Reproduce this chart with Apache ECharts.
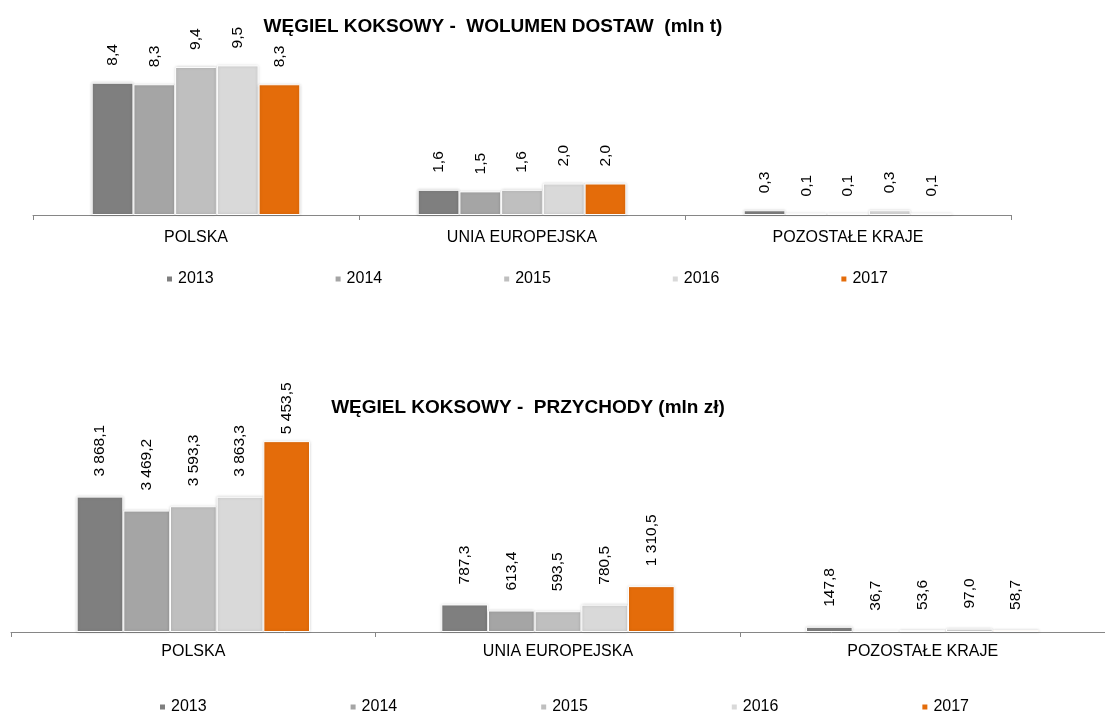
<!DOCTYPE html>
<html>
<head>
<meta charset="utf-8">
<title>Węgiel koksowy</title>
<script src="https://cdn.jsdelivr.net/npm/echarts@6/dist/echarts.min.js"></script>
<style>
  html, body { margin: 0; padding: 0; background: #fff; }
  #main { width: 1105px; height: 713px; }
</style>
</head>
<body>
<div id="main"></div>
<script>
var categories = ['POLSKA', 'UNIA EUROPEJSKA', 'POZOSTAŁE KRAJE'];
var years = ['2013', '2014', '2015', '2016', '2017'];
var colors = ['#7f7f7f', '#a5a5a5', '#bfbfbf', '#d9d9d9', '#e46c0a'];

// wolumen dostaw (mln t), per year: POLSKA, UE, pozostałe
var vol2013 = [8.4, 1.6, 0.3];
var vol2014 = [8.3, 1.5, 0.1];
var vol2015 = [9.4, 1.6, 0.1];
var vol2016 = [9.5, 2.0, 0.3];
var vol2017 = [8.3, 2.0, 0.1];

// przychody (mln zł)
var rev2013 = [3868.1, 787.3, 147.8];
var rev2014 = [3469.2, 613.4, 36.7];
var rev2015 = [3593.3, 593.5, 53.6];
var rev2016 = [3863.3, 780.5, 97.0];
var rev2017 = [5453.5, 1310.5, 58.7];

var volData = [vol2013, vol2014, vol2015, vol2016, vol2017];
var revData = [rev2013, rev2014, rev2015, rev2016, rev2017];

var FONT = '"Liberation Sans", Arial, sans-serif';

function plFmt(v) {
  var s = v.toFixed(1).split('.');
  var int = s[0].replace(/\B(?=(\d{3})+(?!\d))/g, ' ');
  return int + ',' + s[1];
}

function makeSeries(data, idx, dist, special) {
  return data.map(function (d, i) {
    var items = d.map(function (v, j) {
      // label sitting lower, as in the original (e.g. 5 453,5)
      if (special && special[0] === i && special[1] === j) {
        return { value: v, label: { distance: special[2] } };
      }
      return v;
    });
    return {
      name: years[i],
      type: 'bar',
      xAxisIndex: idx,
      yAxisIndex: idx,
      data: items,
      barGap: '0%',
      barCategoryGap: '36%',
      itemStyle: {
        color: colors[i],
        borderColor: '#fff',
        borderWidth: 1,
        shadowColor: 'rgba(0,0,0,0.18)',
        shadowBlur: 3
      },
      label: {
        show: true,
        position: 'top',
        rotate: 90,
        align: 'left',
        verticalAlign: 'middle',
        distance: dist,
        fontFamily: FONT,
        fontSize: 15.5,
        color: '#000',
        formatter: function (p) { return plFmt(p.value); }
      }
    };
  });
}

function xAx(idx, margin) {
  return {
    type: 'category',
    gridIndex: idx,
    data: categories,
    axisLine: { lineStyle: { color: '#868686', width: 1 } },
    axisTick: { show: true, length: 5, lineStyle: { color: '#868686' } },
    axisLabel: { fontFamily: FONT, fontSize: 16, color: '#000', margin: margin }
  };
}

function yAx(idx, max) {
  return {
    type: 'value',
    gridIndex: idx,
    min: 0,
    max: max,
    show: false,
    splitLine: { show: false }
  };
}

var legendText = { fontFamily: FONT, fontSize: 16, color: '#000' };

var chart = echarts.init(document.getElementById('main'));
chart.setOption({
  animation: false,
  title: [
    {
      text: 'WĘGIEL KOKSOWY -  WOLUMEN DOSTAW  (mln t)',
      left: 493, top: 17, textAlign: 'center', padding: 0,
      textStyle: { fontFamily: FONT, fontSize: 19, fontWeight: 'bold', color: '#000' }
    },
    {
      text: 'WĘGIEL KOKSOWY -  PRZYCHODY (mln zł)',
      left: 528, top: 398, textAlign: 'center', padding: 0,
      textStyle: { fontFamily: FONT, fontSize: 19, fontWeight: 'bold', color: '#000' }
    }
  ],
  legend: [
    {
      data: years, top: 271, left: 165, itemGap: 120, padding: 0,
      icon: 'rect', itemWidth: 7, itemHeight: 7,
      textStyle: legendText
    },
    {
      data: years, top: 699, left: 158, itemGap: 142, padding: 0,
      icon: 'rect', itemWidth: 7, itemHeight: 7,
      textStyle: legendText
    }
  ],
  grid: [
    { left: 33, width: 978, top: 26, height: 189 },
    { left: 11, width: 1101, top: 422, height: 210 }
  ],
  xAxis: [xAx(0, 15), xAx(1, 12)],
  yAxis: [yAx(0, 12), yAx(1, 6000)],
  series: makeSeries(volData, 0, 17).concat(makeSeries(revData, 1, 20, [4, 0, 7]))
});
</script>
</body>
</html>
